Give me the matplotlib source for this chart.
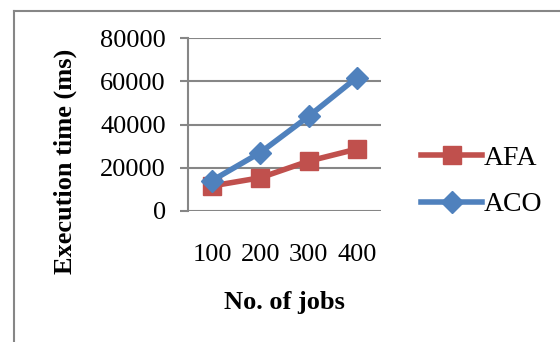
import matplotlib
matplotlib.use("Agg")
import matplotlib.pyplot as plt
from matplotlib.lines import Line2D

plt.rcParams.update({
    "font.family": "Liberation Serif",
    "font.size": 19,
})

# ── Data ────────────────────────────────────────────────────────────────────
jobs = ["100", "200", "300", "400"]
afa = [11500, 15300, 23000, 28600]
aco = [14000, 27000, 43800, 61800]
yticks = [0, 20000, 40000, 60000, 80000]

AFA_COLOR = "#C0504D"
ACO_COLOR = "#4F81BD"
GRID = "#868686"

W, H = 560, 342
fig = plt.figure(figsize=(W / 100, H / 100), dpi=100)
ax = fig.add_axes([188 / W, 1 - 210.7 / H, (381 - 188) / W, (210.7 - 38.3) / H])

x = range(len(jobs))
ax.plot(x, afa, color=AFA_COLOR, lw=4, marker="s", ms=13, label="AFA", zorder=3)
ax.plot(x, aco, color=ACO_COLOR, lw=4, marker="D", ms=11, label="ACO", zorder=4)

ax.set_xlim(-0.5, 3.5)
ax.set_ylim(0, 80000)
ax.set_yticks(yticks)
ax.set_yticklabels([str(v) for v in yticks])
ax.set_xticks(list(x))
ax.set_xticklabels(jobs)
ax.tick_params(axis="x", length=0, pad=24)
ax.tick_params(axis="y", length=6, width=1.5, color=GRID, pad=10)
ax.yaxis.grid(True, color=GRID, lw=1.5)
ax.set_axisbelow(True)
for s in ["top", "right", "bottom"]:
    ax.spines[s].set_visible(False)
ax.spines["left"].set_color(GRID)
ax.spines["left"].set_linewidth(1.5)

# axis titles placed in pixel terms relative to the plot area
ax.set_xlabel("No. of jobs", fontweight="bold")
ax.xaxis.set_label_coords((284 - 188) / 193, -(302 - 210.7) / 172.4)
ax.xaxis.label.set_va("center")
ax.set_ylabel("Execution time (ms)", fontweight="bold")
ax.yaxis.set_label_coords((65 - 188) / 193, (210.7 - 161) / 172.4)
ax.yaxis.label.set_va("center")

ax.legend(loc="center left", bbox_to_anchor=(1.15, 0.17), frameon=False, fontsize=20,
          handlelength=2.2, handletextpad=0.05, labelspacing=0.75, borderaxespad=0)

# outer chart frame (left and top edges visible)
fig.add_artist(Line2D([14 / W, 14 / W], [0, 1 - 11 / H], color=GRID, lw=1.5))
fig.add_artist(Line2D([14 / W, 1], [1 - 11 / H, 1 - 11 / H], color=GRID, lw=1.5))

fig.savefig("out.png", dpi=100)
